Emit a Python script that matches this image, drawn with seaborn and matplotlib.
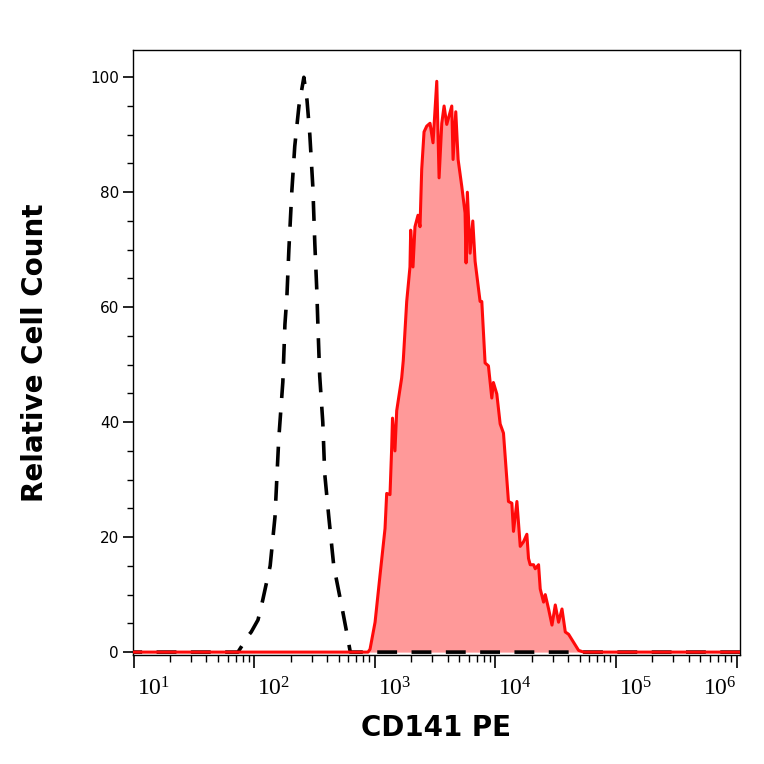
import numpy as np
import pandas as pd
import matplotlib
matplotlib.use('Agg')
import matplotlib.pyplot as plt
import matplotlib.transforms as mtransforms
import seaborn as sns

# izotip (linie neagra punctata)
iso_x = [8, 73, 81, 86, 94, 107, 117, 135, 148, 159, 172, 179, 186, 193, 204, 216, 234, 257,
         273, 288, 305, 317, 329, 336, 348, 369, 383, 414, 455, 541, 594, 624, 1.2e6]
iso_y = [0, 0, 1.5, 2.5, 3.5, 5.6, 9, 15, 23.5, 37, 47, 57, 62, 70, 80, 88, 95, 100,
         96, 90, 81, 71, 63, 57, 48, 40, 31, 23.5, 15, 7, 2.5, 0, 0]

# CD141 PE (rosu)
cd_x = [8, 875, 910, 1002, 1103, 1212, 1251, 1333, 1376, 1398, 1465, 1515, 1666, 1717, 1834,
        1952, 1979, 2068, 2148, 2275, 2365, 2443, 2554, 2689, 2864, 3032, 3257, 3404, 3584,
        3746, 3942, 4339, 4447, 4683, 4897, 5253, 5592, 5702, 5843, 6155, 6482, 6774, 7453,
        7699, 8200, 8738, 9322, 9612, 10260, 10935, 11650, 12815, 13675, 14105, 15060, 16050,
        17090, 18215, 18795, 19415, 20700, 21385, 22775, 23510, 25060, 25890, 27590, 29440,
        31350, 33380, 35640, 37960, 40440, 44480, 48940, 53890, 1.2e6]
cd_y = [0, 0, 0.5, 5.2, 13.5, 21.5, 27.6, 27.4, 35.5, 40.7, 35, 42, 47.7, 50.7, 61,
        67, 73.4, 67, 74, 76, 74, 84, 90.5, 91.5, 92, 88.6, 99.3, 82.5, 92,
        95, 91.8, 95, 85.7, 94, 85.7, 81, 76.4, 67.7, 80, 69.4, 75, 68, 61,
        61, 50.3, 49.8, 44.2, 46.9, 44.9, 39.7, 38.1, 26.2, 25.9, 21, 26.2, 18.4,
        19.2, 20.5, 16.3, 15.2, 15.2, 14.5, 15.2, 11, 8.7, 10, 7.5, 4.7,
        8.2, 5.2, 7.5, 3.5, 3.1, 1.7, 0.3, 0, 0]

df_iso = pd.DataFrame({'x': iso_x, 'y': iso_y})
df_cd = pd.DataFrame({'x': cd_x, 'y': cd_y})

sns.set_style('ticks', {'text.color': 'black', 'axes.labelcolor': 'black',
                        'xtick.color': 'black', 'ytick.color': 'black'})
plt.rcParams['font.family'] = ['DejaVu Sans']

fig = plt.figure(figsize=(7.64, 7.64), dpi=100)
ax = fig.add_axes([0.174, 0.1427, 0.794, 0.7919])

ax.fill_between(df_cd['x'], df_cd['y'], 0, color='#ff9999', lw=0, zorder=1)
sns.lineplot(data=df_iso, x='x', y='y', ax=ax, color='black', lw=2.6, estimator=None,
             sort=False, zorder=2).lines[-1].set_dashes((5.5, 4))
sns.lineplot(data=df_cd, x='x', y='y', ax=ax, color='#ff0a0a', lw=2.2, estimator=None,
             sort=False, zorder=3)

ax.set_xscale('log')
ax.set_xlim(9.81, 1.06e6)
ax.set_ylim(-0.5, 104.75)

ax.set_yticks([0, 20, 40, 60, 80, 100])
ax.set_yticks(np.arange(0, 105, 5), minor=True)
ax.tick_params(axis='y', which='major', length=7, width=1.2, labelsize=11, pad=3)
ax.tick_params(axis='y', which='minor', length=4, width=1)

ax.set_xticks([1e1, 1e2, 1e3, 1e4, 1e5, 1e6])
ax.set_xticklabels([r'$\mathregular{10^{%d}}$' % k for k in range(1, 7)])
ax.tick_params(axis='x', which='major', length=9, width=1.2, pad=7)
ax.tick_params(axis='x', which='minor', length=5, width=1)
for i, lab in enumerate(ax.get_xticklabels()):
    lab.set_fontfamily('Liberation Serif')
    lab.set_fontsize(17)
    if i < 5:
        lab.set_ha('left')
        lab.set_transform(lab.get_transform() + mtransforms.ScaledTranslation(3 / 100, 0, fig.dpi_scale_trans))
    else:
        lab.set_ha('right')

for s in ax.spines.values():
    s.set_linewidth(1)
    s.set_color('black')

ax.set_xlabel('CD141 PE', fontsize=20, fontweight='bold', labelpad=10)
ax.set_ylabel('Relative Cell Count', fontsize=20, fontweight='bold', labelpad=30)

fig.savefig('out.png', dpi=100)
